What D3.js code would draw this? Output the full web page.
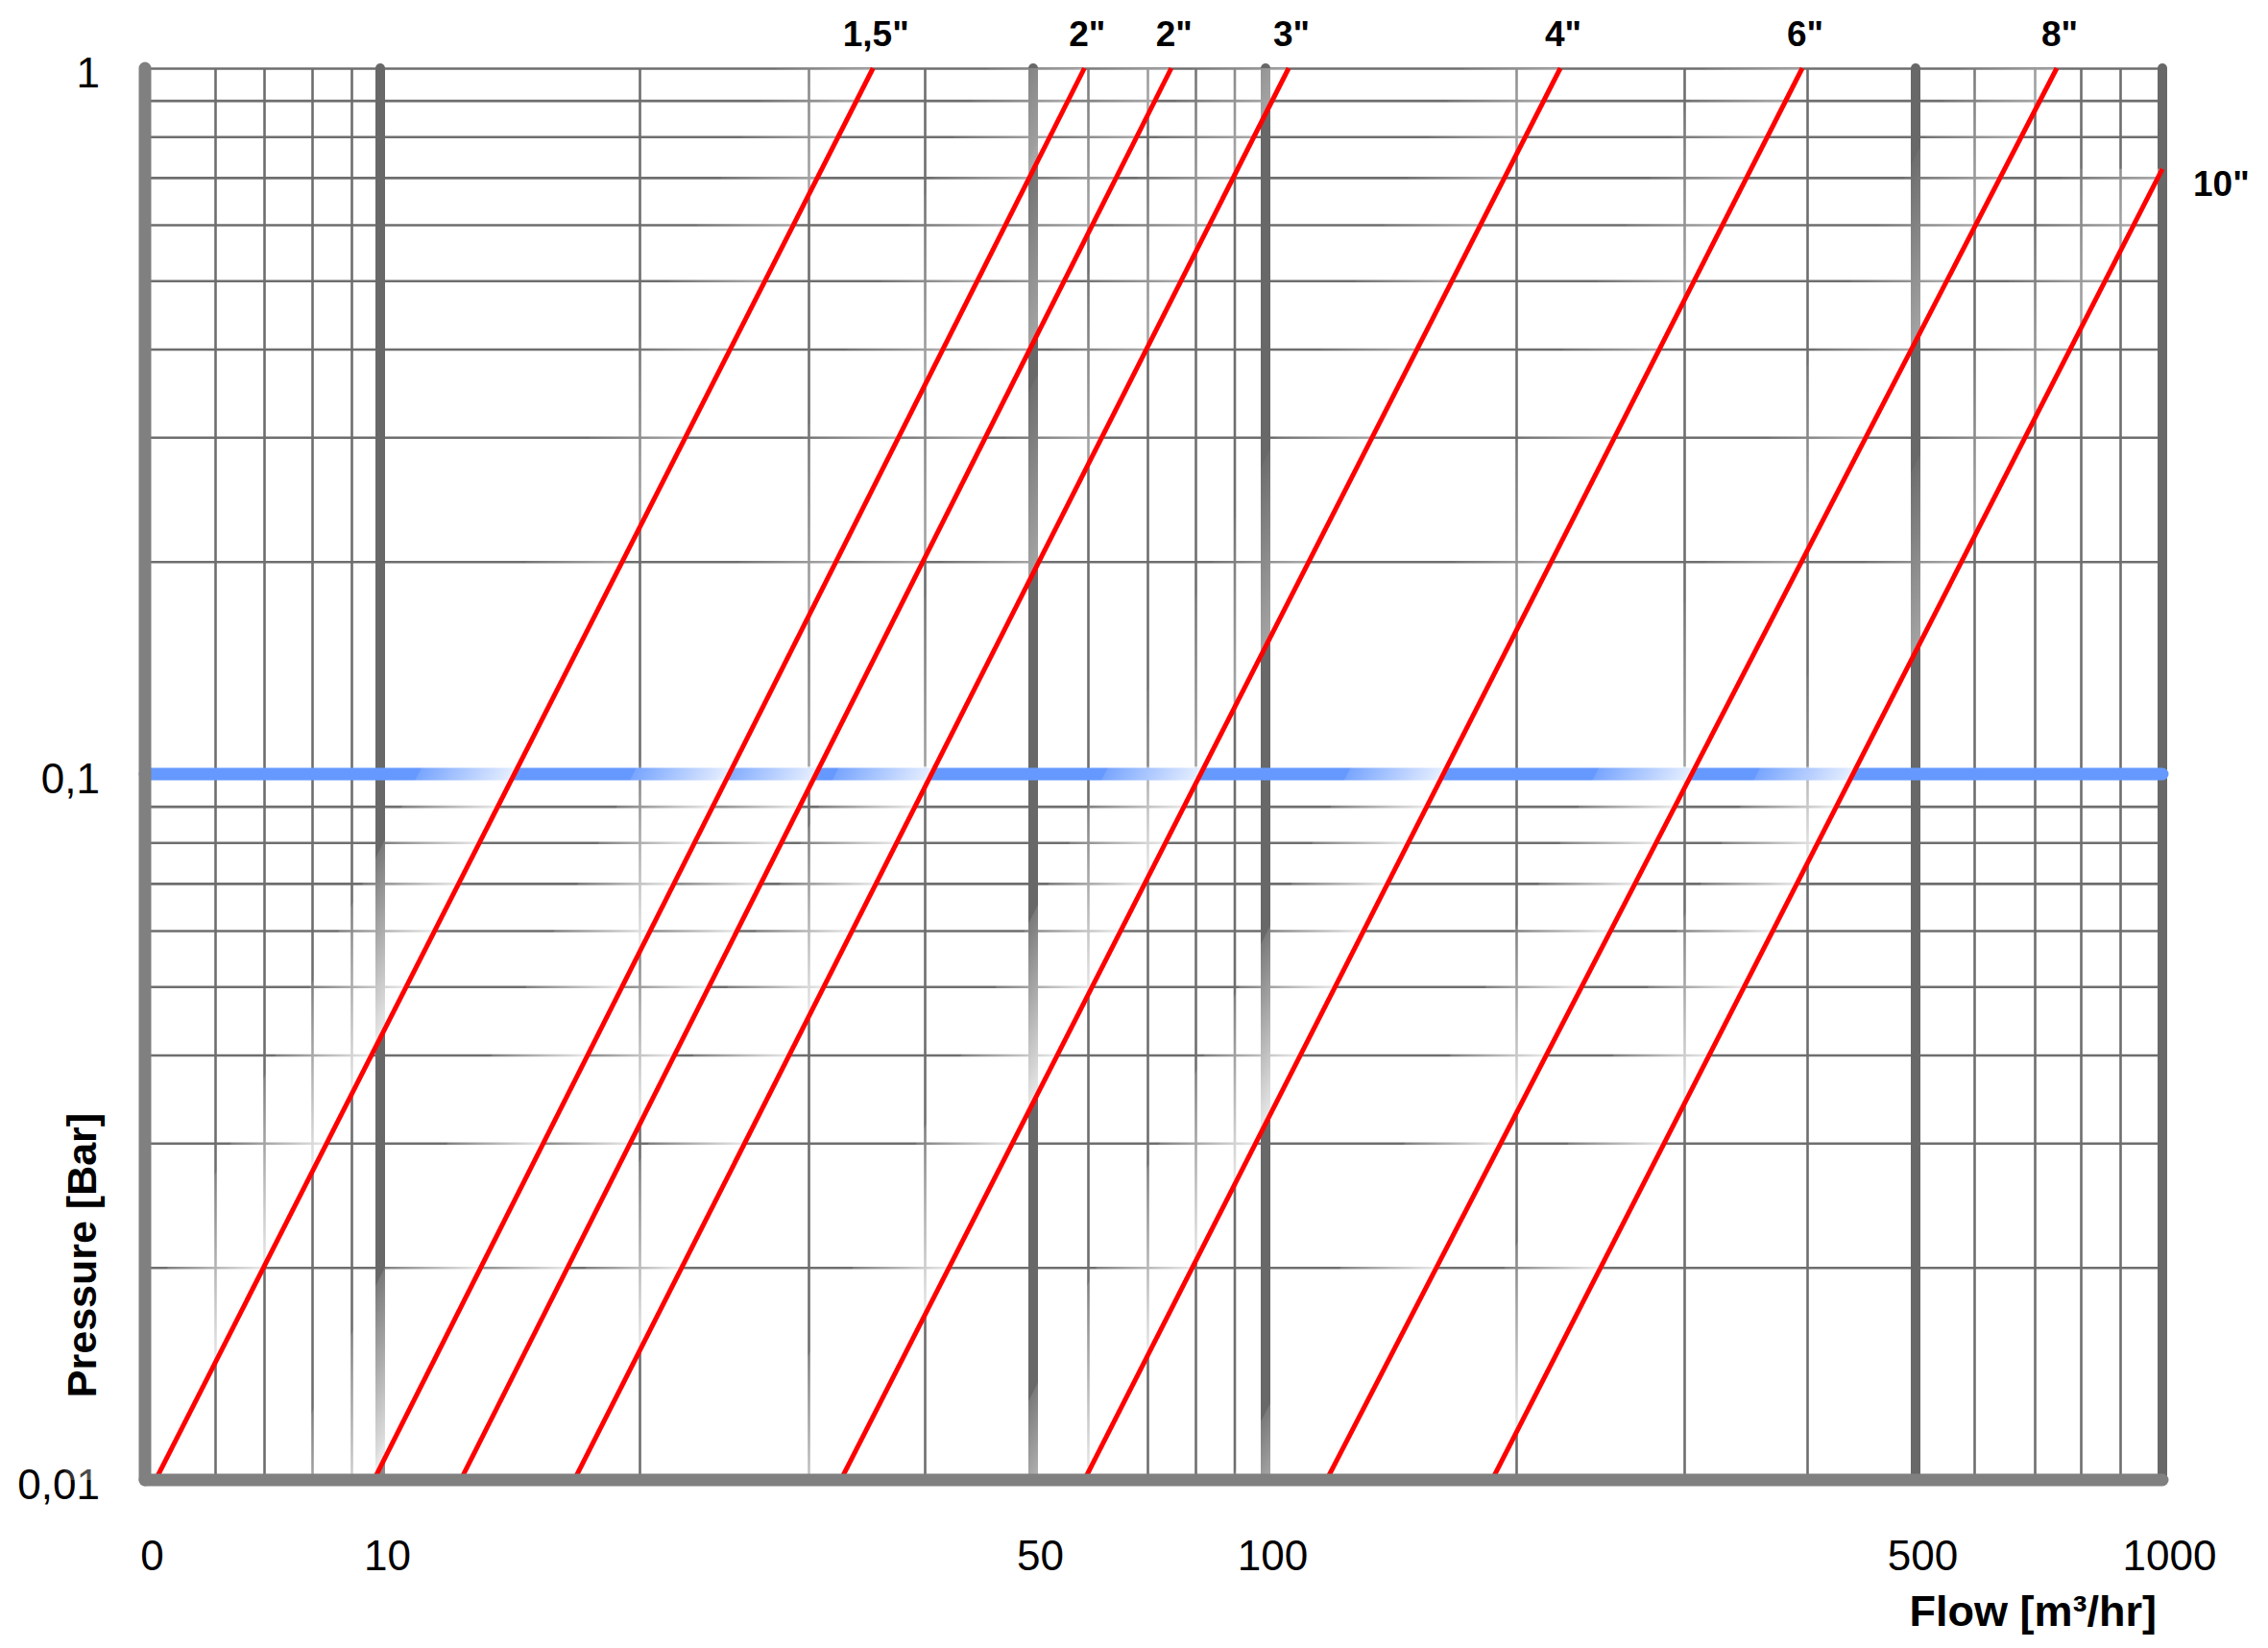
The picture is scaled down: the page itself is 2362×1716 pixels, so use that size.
<!DOCTYPE html>
<html>
<head>
<meta charset="utf-8">
<script src="https://cdn.jsdelivr.net/npm/d3@7"></script>
<style>
  html, body { margin: 0; padding: 0; background: #fff; }
  svg { display: block; }
  text { font-family: "Liberation Sans", Arial, sans-serif; fill: #000; }
</style>
</head>
<body>
<svg id="chart" width="2362" height="1716"></svg>
<script>
// ---- data ----
const pipeSizes = ['1,5"', '2"', '2"', '3"', '4"', '6"', '8"', '10"'];
// flow [m3/hr] where each pipe line leaves the 0,01 bar line
const flowAtLowPressure = [5.14, 9.77, 12.4, 16.8, 32.5, 59.3, 118.4, 187.1];
// upper end of each pipe line (flow, pressure)
const flowAtHighPressure = [35.2, 59.3, 74.8, 106.6, 222.5, 395.5, 746.3, 1000];
const highPressure = [1, 1, 1, 1, 1, 1, 1, 0.72];
const referencePressure = 0.1;

const xMajorTicks = [5, 10, 50, 100, 500, 1000];
const xMajorLabels = ["0", "10", "50", "100", "500", "1000"];
const xMinorTicks = [6, 7, 8, 9, 20, 30, 40, 60, 70, 80, 90, 200, 300, 400, 600, 700, 800, 900];
const yMajorTicks = [1, 0.1, 0.01];
const yMajorLabels = ["1", "0,1", "0,01"];
const yMinorTicks = [0.02, 0.03, 0.04, 0.05, 0.06, 0.07, 0.08, 0.09,
                     0.2, 0.3, 0.4, 0.5, 0.6, 0.7, 0.8, 0.9, 1];

// ---- layout ----
// the printed flow axis is not an even log grid, so the scale is calibrated piecewise
const flowStops = [5, 6, 7, 8, 9, 10, 20, 30, 40, 50, 60, 70, 80, 90, 100,
                   200, 300, 400, 500, 600, 700, 800, 900, 1000];
const flowStopsPx = [151, 224, 275, 325, 366, 396, 666, 842, 963, 1076, 1133, 1195, 1245, 1285.5, 1318,
                     1579, 1754, 1882, 1995, 2056, 2119, 2167, 2208, 2252];

const x = d3.scaleLog().domain(flowStops).range(flowStopsPx);
const y = d3.scaleLog().domain([0.01, 1]).range([1541, 71]);

const xMin = x(5), xMax = x(1000);
const yTop = y(1), yBottom = y(0.01);
const bandWidth = 100;

const svg = d3.select("#chart");
const defs = svg.append("defs");

// minor vertical grid
const vGrid = svg.append("g")
  .attr("transform", `translate(0,${yBottom})`)
  .call(d3.axisBottom(x).tickValues(xMinorTicks).tickSize(-(yBottom - yTop)).tickFormat(""));
vGrid.select(".domain").remove();
vGrid.selectAll("line").attr("stroke", "#6e6e6e").attr("stroke-width", 2.6);

// minor horizontal grid
const hGrid = svg.append("g")
  .attr("transform", `translate(${xMin},0)`)
  .call(d3.axisLeft(y).tickValues(yMinorTicks).tickSize(-(xMax - xMin)).tickFormat(""));
hGrid.select(".domain").remove();
hGrid.selectAll("line").attr("stroke", "#6e6e6e").attr("stroke-width", 2.6);

// heavy vertical lines at 10, 50, 100, 500, 1000
svg.append("g").selectAll("line")
  .data(xMajorTicks.slice(1))
  .join("line")
  .attr("x1", d => x(d)).attr("x2", d => x(d))
  .attr("y1", yTop).attr("y2", yBottom)
  .attr("stroke", "#686868")
  .attr("stroke-width", 10)
  .attr("stroke-linecap", "round");

// pressure tick labels
const yLabels = svg.append("g")
  .attr("transform", `translate(${xMin},0)`)
  .call(d3.axisLeft(y).tickValues(yMajorTicks).tickSize(0).tickPadding(47)
    .tickFormat((d, i) => yMajorLabels[i]));
yLabels.select(".domain").remove();
yLabels.selectAll("text")
  .attr("font-size", 44)
  .attr("font-family", '"Liberation Sans", Arial, sans-serif')
  .attr("dy", "0.44em");

// reference pressure line
const yRef = y(referencePressure);
svg.append("line")
  .attr("x1", xMin).attr("x2", xMax)
  .attr("y1", yRef).attr("y2", yRef)
  .attr("stroke", "#6699ff")
  .attr("stroke-width", 13)
  .attr("stroke-linecap", "round");

// pipe lines
const pipes = pipeSizes.map((name, i) => ({
  name,
  pts: [{ q: flowAtLowPressure[i], p: 0.01 }, { q: flowAtHighPressure[i], p: highPressure[i] }]
}));

// white fade on the left side of each pipe line: strong below the 0,1 bar line, faint above
const fadeSplit = yRef - 8;
pipes.forEach((d, i) => {
  const xb = x(d.pts[0].q), yb = y(d.pts[0].p);
  const xt = x(d.pts[1].q), yt = y(d.pts[1].p);
  const xAt = yy => xb + (xt - xb) * (yy - yb) / (yt - yb);
  let ux = xt - xb, uy = yt - yb;
  const len = Math.hypot(ux, uy);
  ux /= len; uy /= len;
  const ax = xb - bandWidth, ay = yb;
  const proj = (ax - xb) * ux + (ay - yb) * uy;
  const bx = xb + proj * ux, by = yb + proj * uy;

  const parts = [
    { id: `fadeLow${i}`, y0: yb, y1: fadeSplit, o0: 0.12, o1: 0.85 },
    { id: `fadeHigh${i}`, y0: fadeSplit, y1: yt, o0: 0.04, o1: 0.4 }
  ];
  parts.forEach(part => {
    if (part.y1 >= part.y0) return;
    const grad = defs.append("linearGradient")
      .attr("id", part.id)
      .attr("gradientUnits", "userSpaceOnUse")
      .attr("x1", ax).attr("y1", ay)
      .attr("x2", bx).attr("y2", by);
    grad.append("stop").attr("offset", 0).attr("stop-color", "#fff").attr("stop-opacity", part.o0);
    grad.append("stop").attr("offset", 1).attr("stop-color", "#fff").attr("stop-opacity", part.o1);

    const x0 = xAt(part.y0), x1 = xAt(part.y1);
    svg.append("polygon")
      .attr("points", [[x0 - bandWidth, part.y0], [x1 - bandWidth, part.y1],
                       [x1, part.y1], [x0, part.y0]].join(" "))
      .attr("fill", `url(#${part.id})`);
  });
});

const line = d3.line().x(d => x(d.q)).y(d => y(d.p));

svg.append("g").selectAll("path")
  .data(pipes)
  .join("path")
  .attr("d", d => line(d.pts))
  .attr("fill", "none")
  .attr("stroke", "#ff0000")
  .attr("stroke-width", 5);

// main axes
svg.append("line")
  .attr("x1", xMin).attr("x2", xMin).attr("y1", yTop).attr("y2", yBottom)
  .attr("stroke", "#808080").attr("stroke-width", 13).attr("stroke-linecap", "round");
svg.append("line")
  .attr("x1", xMin).attr("x2", xMax).attr("y1", yBottom).attr("y2", yBottom)
  .attr("stroke", "#808080").attr("stroke-width", 13).attr("stroke-linecap", "round");

// flow tick labels
const xLabels = svg.append("g")
  .attr("transform", `translate(0,${yBottom})`)
  .call(d3.axisBottom(x).tickValues(xMajorTicks).tickSize(0).tickPadding(63)
    .tickFormat((d, i) => xMajorLabels[i]));
xLabels.select(".domain").remove();
xLabels.selectAll("text")
  .attr("font-size", 44)
  .attr("font-family", '"Liberation Sans", Arial, sans-serif')
  .attr("dx", 7);

// pipe size labels
svg.append("g").selectAll("text")
  .data(pipes)
  .join("text")
  .attr("x", d => d.pts[1].p < 1 ? x(d.pts[1].q) + 32 : x(d.pts[1].q) + 3)
  .attr("y", d => d.pts[1].p < 1 ? y(d.pts[1].p) + 28 : 48)
  .attr("text-anchor", d => d.pts[1].p < 1 ? "start" : "middle")
  .attr("font-size", 37)
  .attr("font-weight", "bold")
  .text(d => d.name);

// axis titles
svg.append("text")
  .attr("x", 2246).attr("y", 1693)
  .attr("text-anchor", "end")
  .attr("font-size", 45)
  .attr("font-weight", "bold")
  .text("Flow [m³/hr]");

svg.append("text")
  .attr("transform", "translate(100,1307) rotate(-90)")
  .attr("text-anchor", "middle")
  .attr("font-size", 43)
  .attr("font-weight", "bold")
  .text("Pressure [Bar]");
</script>
</body>
</html>
